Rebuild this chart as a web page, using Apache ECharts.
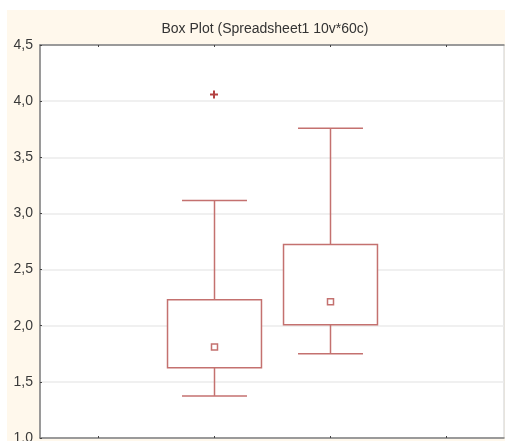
<!DOCTYPE html>
<html>
<head>
<meta charset="utf-8">
<script src="https://cdn.jsdelivr.net/npm/echarts@6/dist/echarts.min.js"></script>
<style>html,body{margin:0;padding:0;background:#fff}#c{width:505px;height:441px}</style>
</head>
<body>
<div id="c"></div>
<script>
var titleText = 'Box Plot (Spreadsheet1 10v*60c)';
var categories = ['', 'Var 1', 'Var 2', ''];
var yTicks = [1.0, 1.5, 2.0, 2.5, 3.0, 3.5, 4.0, 4.5];
// [category index, non-outlier min, 25%, median, 75%, non-outlier max]
var boxStats = [
  [1, 1.375, 1.625, 1.81, 2.232, 3.116],
  [2, 1.75, 2.009, 2.214, 2.723, 3.759]
];
var outliers = [[1, 4.06]];

var boxColor = '#C4716F';
var chart = echarts.init(document.getElementById('c'));

function renderBox(params, api) {
  var x = api.value(0);
  var pMin = api.coord([x, api.value(1)]);
  var pQ1 = api.coord([x, api.value(2)]);
  var pMed = api.coord([x, api.value(3)]);
  var pQ3 = api.coord([x, api.value(4)]);
  var pMax = api.coord([x, api.value(5)]);
  var band = api.size([1, 0])[0];
  var bw = band * 0.81;
  var cw = band * 0.56;
  var cx = Math.round(pQ1[0]) + 0.5;
  var st = { stroke: boxColor, lineWidth: 1.5, fill: null };
  return {
    type: 'group',
    children: [
      { type: 'line', shape: { x1: cx, y1: pQ3[1], x2: cx, y2: pMax[1] }, style: st },
      { type: 'line', shape: { x1: cx, y1: pQ1[1], x2: cx, y2: pMin[1] }, style: st },
      { type: 'line', shape: { x1: cx - cw / 2, y1: pMax[1], x2: cx + cw / 2, y2: pMax[1] }, style: st },
      { type: 'line', shape: { x1: cx - cw / 2, y1: pMin[1], x2: cx + cw / 2, y2: pMin[1] }, style: st },
      { type: 'rect', shape: { x: cx - bw / 2, y: pQ3[1], width: bw, height: pQ1[1] - pQ3[1] }, style: { stroke: boxColor, lineWidth: 1.5, fill: '#fff' } },
      { type: 'rect', shape: { x: cx - 3, y: pMed[1] - 3, width: 6, height: 6 }, style: { stroke: boxColor, lineWidth: 1.5, fill: '#fff' } }
    ]
  };
}

chart.setOption({
  animation: false,
  backgroundColor: '#fff',
  graphic: [{
    type: 'rect', z: -10, left: 7, top: 10,
    shape: { width: 498, height: 431 },
    style: { fill: '#FFF8EC' }
  }],
  title: {
    text: titleText, left: 260, top: 17, textAlign: 'center',
    textStyle: { fontFamily: 'Liberation Sans, Arial', fontSize: 14, fontWeight: 'normal', color: '#333' }
  },
  grid: {
    left: 40, top: 45, width: 464, height: 393, outerBoundsMode: 'none',
    show: true, backgroundColor: '#fff', borderColor: '#cfcfcf', borderWidth: 1
  },
  xAxis: [{
    type: 'category', data: categories, position: 'bottom',
    axisLine: { lineStyle: { color: '#808080', width: 1.5 } },
    axisTick: { show: true, inside: true, alignWithLabel: true, length: 2, lineStyle: { color: '#444' } },
    axisLabel: { show: false }, splitLine: { show: false }
  }, {
    type: 'category', data: categories, position: 'top',
    axisLine: { lineStyle: { color: '#808080', width: 1.5 } },
    axisTick: { show: true, inside: true, alignWithLabel: true, length: 2, lineStyle: { color: '#444' } },
    axisLabel: { show: false }, splitLine: { show: false }
  }],
  yAxis: {
    type: 'value', min: yTicks[0], max: yTicks[yTicks.length - 1], interval: 0.5,
    axisLine: { show: true, lineStyle: { color: '#808080', width: 1.5 } },
    axisTick: { show: true, inside: true, length: 2, lineStyle: { color: '#444' } },
    axisLabel: {
      fontFamily: 'Liberation Sans, Arial', fontSize: 14, color: '#3a3a3a', margin: 7,
      verticalAlignMinLabel: 'middle', verticalAlignMaxLabel: 'middle',
      formatter: function (v) { return v.toFixed(1).replace('.', ','); }
    },
    splitLine: { show: true, lineStyle: { color: '#ebebeb', width: 1.5 } }
  },
  series: [{
    type: 'custom', xAxisIndex: 0, renderItem: renderBox, data: boxStats,
    encode: { x: 0, y: [1, 2, 3, 4, 5] }, z: 5
  }, {
    type: 'scatter', xAxisIndex: 0, data: outliers,
    symbol: 'path://M3,0H5V3H8V5H5V8H3V5H0V3H3Z',
    symbolSize: 8, itemStyle: { color: '#A01212' }, z: 6
  }]
});
</script>
</body>
</html>
